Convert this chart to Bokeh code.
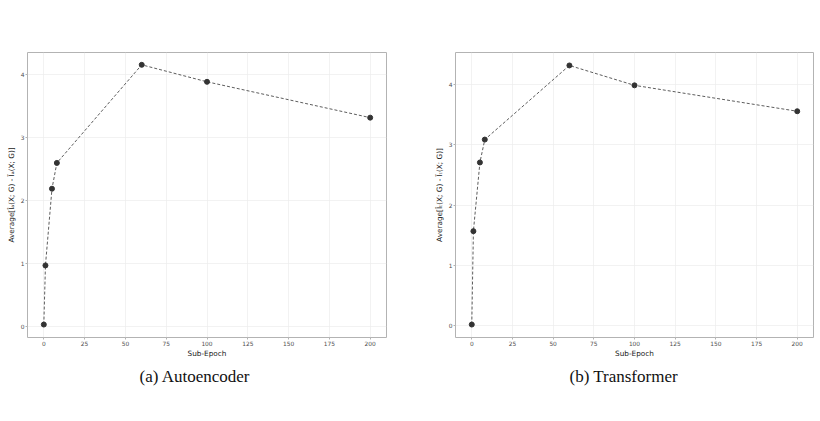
from bokeh.plotting import figure
from bokeh.layouts import row
from bokeh.models import Range1d, FixedTicker, Title
from bokeh.embed import file_html
from bokeh.resources import INLINE

# values
sub_epoch = [0, 1, 5, 8, 60, 100, 200]
autoencoder = [0.03, 0.97, 2.19, 2.60, 4.16, 3.89, 3.32]
transformer = [0.02, 1.57, 2.71, 3.09, 4.32, 3.99, 3.56]
x_ticks = [0, 25, 50, 75, 100, 125, 150, 175, 200]
y_ticks = [0, 1, 2, 3, 4]
ae_ylabel = "Average[\u00ce\u2090(X; G) - \u0128\u2090(X; G)]"
tf_ylabel = "Average[\u00ce\u209c(X; G) - \u0128\u209c(X; G)]"
ae_caption = "(a) Autoencoder"
tf_caption = "(b) Transformer"

FRAME_H = 285
TOP = 52


def make_panel(xs, ys, ylabel, caption, ylo, yhi, width, left, right, cap_offset):
	p = figure(width=width, height=420, x_range=Range1d(-10, 210), y_range=Range1d(ylo, yhi),
		output_backend="svg", toolbar_location=None,
		min_border_left=left, min_border_right=right, min_border_top=TOP,
		min_border_bottom=420 - TOP - FRAME_H)
	p.background_fill_color = "white"
	p.border_fill_color = "white"
	p.outline_line_color = "#b3b3b3"
	p.outline_line_width = 1

	p.xaxis.ticker = FixedTicker(ticks=x_ticks)
	p.yaxis.ticker = FixedTicker(ticks=y_ticks)
	p.xaxis.axis_label = "Sub-Epoch"
	p.yaxis.axis_label = ylabel
	for ax in p.xaxis + p.yaxis:
		ax.axis_line_color = None
		ax.major_tick_line_color = "#b3b3b3"
		ax.major_tick_in = 0
		ax.major_tick_out = 2
		ax.minor_tick_line_color = None
		ax.major_label_text_font = "DejaVu Sans"
		ax.major_label_text_font_size = "5.9px"
		ax.major_label_text_color = "#4d4d4d"
		ax.major_label_standoff = 1
		ax.axis_label_text_font = "DejaVu Sans"
		ax.axis_label_text_font_size = "7.3px"
		ax.axis_label_text_font_style = "normal"
		ax.axis_label_text_color = "#1a1a1a"
		ax.axis_label_standoff = 2
	p.xaxis.axis_label_standoff = 0

	p.grid.grid_line_color = "#ededed"
	p.grid.grid_line_width = 0.7

	p.line(xs, ys, line_color="#333333", line_width=0.8, line_dash="3 2")
	p.scatter(xs, ys, size=5, fill_color="#333333", line_color="#333333")

	# sub-figure caption under the x axis
	p.add_layout(Title(text=caption, align="left", offset=cap_offset, standoff=8,
		text_font="Liberation Serif", text_font_size="17px", text_font_style="normal",
		text_color="#111111"), "below")
	return p


left_panel = make_panel(sub_epoch, autoencoder, ae_ylabel, ae_caption, -0.176, 4.356, 410, 27, 24, 112)
right_panel = make_panel(sub_epoch, transformer, tf_ylabel, tf_caption, -0.195, 4.535, 408, 45, 5, 114)

layout = row(left_panel, right_panel)
open("out.html", "w").write(file_html(layout, INLINE))
